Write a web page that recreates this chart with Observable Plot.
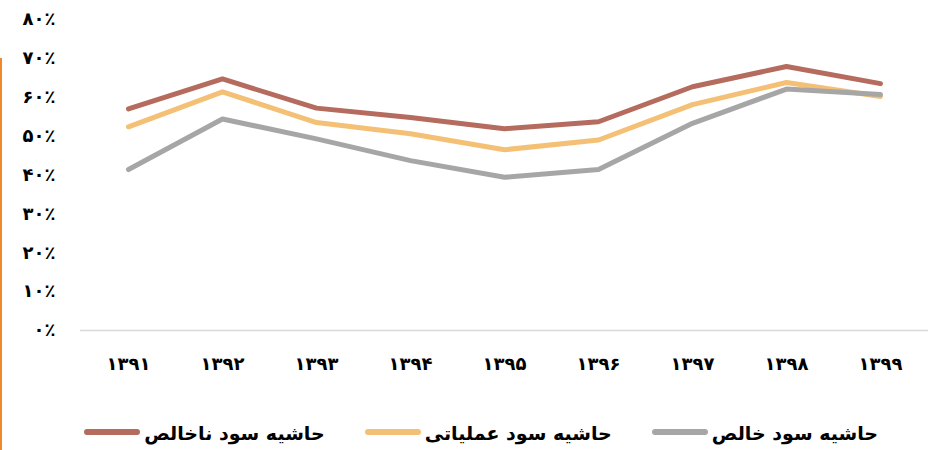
<!DOCTYPE html>
<html>
<head>
<meta charset="utf-8">
<script src="https://cdn.jsdelivr.net/npm/d3@7"></script>
<script src="https://cdn.jsdelivr.net/npm/@observablehq/plot@0.6"></script>
<style>
  html, body { margin: 0; padding: 0; background: #fff; }
  body { width: 928px; height: 450px; position: relative; overflow: hidden; font-family: "DejaVu Sans", sans-serif; }
  #edge { position: absolute; left: 0; top: 58px; width: 2px; height: 392px; background: #f0882e; }
  #legend { position: absolute; top: 420px; right: 50px; height: 26px; display: flex; flex-direction: row; direction: rtl; align-items: center; gap: 40px; font-weight: bold; font-size: 19px; color: #000; }
  .item { display: flex; align-items: center; gap: 4px; direction: rtl; }
  .sw { width: 56px; height: 6px; border-radius: 3px; margin-top: -3px; }
</style>
</head>
<body>
<div id="edge"></div>
<div id="chart"></div>
<div id="legend"></div>
<script>
const years = ["1391","1392","1393","1394","1395","1396","1397","1398","1399"];
const seriesNames = ["حاشیه سود ناخالص", "حاشیه سود عملیاتی", "حاشیه سود خالص"];
const grossMargin = [57.0, 64.7, 57.2, 54.8, 51.9, 53.7, 62.7, 67.9, 63.5];
const operatingMargin = [52.4, 61.4, 53.5, 50.6, 46.5, 49.0, 58.1, 63.8, 60.2];
const netMargin = [41.4, 54.4, 49.3, 43.7, 39.4, 41.4, 53.3, 62.1, 60.7];
const yTicks = [0, 10, 20, 30, 40, 50, 60, 70, 80];
const colors = ["#b56b5e", "#f4c076", "#a6a6a6"];

const fa = s => String(s).replace(/[0-9]/g, d => "۰۱۲۳۴۵۶۷۸۹"[+d]);
const valueSets = [grossMargin, operatingMargin, netMargin];
const data = [];
seriesNames.forEach((name, i) => years.forEach((y, j) => data.push({series: name, year: y, value: valueSets[i][j]})));

const chart = Plot.plot({
  width: 928,
  height: 400,
  marginLeft: 80,
  marginRight: 0,
  marginTop: 19,
  marginBottom: 70,
  style: {fontFamily: "DejaVu Sans, sans-serif", fontSize: "18px", fontWeight: "bold", color: "#000", background: "#fff"},
  x: {type: "point", domain: years, padding: 0.5, label: null},
  y: {domain: [0, 80], label: null},
  color: {domain: seriesNames, range: colors},
  marks: [
    Plot.ruleY([0], {stroke: "#d9d9d9", strokeWidth: 1.5}),
    Plot.axisY({ticks: yTicks, tickSize: 0, tickPadding: 25, tickFormat: d => fa(d) + "٪", fontSize: 18, fontWeight: "bold", label: null}),
    Plot.axisX({tickSize: 0, tickPadding: 27, tickFormat: d => fa(d), fontSize: 18, fontWeight: "bold", label: null}),
    Plot.line(data, {x: "year", y: "value", z: "series", stroke: "series", strokeWidth: 5, strokeLinecap: "round", strokeLinejoin: "round"})
  ]
});
document.getElementById("chart").appendChild(chart);

const legend = document.getElementById("legend");
[2, 1, 0].forEach(i => {
  const it = document.createElement("div");
  it.className = "item";
  const t = document.createElement("span");
  t.textContent = seriesNames[i];
  const s = document.createElement("span");
  s.className = "sw";
  s.style.background = colors[i];
  it.appendChild(t);
  it.appendChild(s);
  legend.appendChild(it);
});
</script>
</body>
</html>
